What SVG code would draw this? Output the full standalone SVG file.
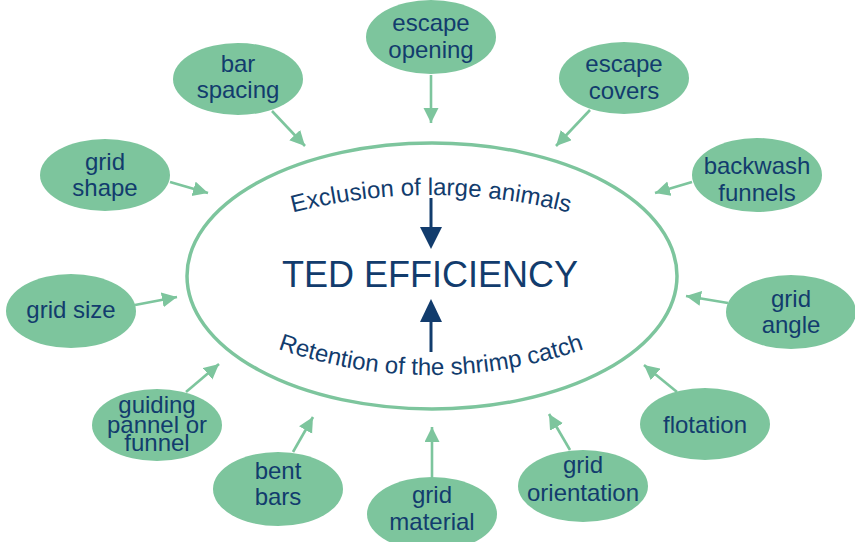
<svg xmlns="http://www.w3.org/2000/svg" width="855" height="542" viewBox="0 0 855 542">
<defs>
<style>
.node ellipse{fill:#7dc59d;}
.node text,.lbl{font-family:"Liberation Sans",Arial,sans-serif;font-size:24px;fill:#123c6d;text-anchor:middle;}
.conn line{stroke:#7dc59d;stroke-width:2.6;fill:none;marker-end:url(#ah);}
.title{font-family:"Liberation Sans",Arial,sans-serif;font-size:36px;fill:#123c6d;text-anchor:middle;}
</style>
<marker id="ah" markerUnits="userSpaceOnUse" markerWidth="16" markerHeight="16" refX="15" refY="7.5" orient="auto">
<path d="M0,0 L15,7.5 L0,15 z" fill="#7dc59d"/>
</marker>
<path id="arcTop" d="M 250 225.5 A 553 553 0 0 1 612 225.5"/>
<path id="arcBot" d="M 231 329.5 A 462 462 0 0 0 631 329.5"/>
</defs>
<rect width="855" height="542" fill="#ffffff"/>

<g id="center">
<ellipse cx="432" cy="276" rx="245" ry="133" fill="#ffffff" stroke="#7dc59d" stroke-width="3.5"/>
<text class="lbl"><textPath href="#arcTop" startOffset="50%">Exclusion of large animals</textPath></text>
<text class="lbl"><textPath href="#arcBot" startOffset="50%">Retention of the shrimp catch</textPath></text>
<text class="title" x="430" y="287">TED EFFICIENCY</text>
<line x1="431" y1="198" x2="431" y2="232" stroke="#123c6d" stroke-width="3"/>
<polygon points="420,227 442,227 431,249" fill="#123c6d"/>
<line x1="431" y1="352" x2="431" y2="318" stroke="#123c6d" stroke-width="3"/>
<polygon points="420,322 442,322 431,299" fill="#123c6d"/>
</g>

<g class="conn" id="connectors">
<line x1="431" y1="75" x2="431" y2="123"/>
<line x1="272" y1="111" x2="305" y2="146"/>
<line x1="590" y1="110" x2="556" y2="146"/>
<line x1="170" y1="182" x2="208" y2="193"/>
<line x1="692" y1="182" x2="655" y2="193"/>
<line x1="135" y1="305" x2="177" y2="297"/>
<line x1="728" y1="303" x2="686" y2="296"/>
<line x1="186" y1="392" x2="219" y2="364"/>
<line x1="677" y1="392" x2="644" y2="365"/>
<line x1="293" y1="452" x2="313" y2="417"/>
<line x1="432" y1="477" x2="432" y2="427"/>
<line x1="570" y1="450" x2="549" y2="414"/>
</g>

<g class="node" id="escape-opening"><ellipse cx="431" cy="37" rx="65" ry="37"/><text x="431" y="31">escape</text><text x="431" y="58">opening</text></g>
<g class="node" id="bar-spacing"><ellipse cx="238" cy="79" rx="65" ry="36"/><text x="238" y="72">bar</text><text x="238" y="98">spacing</text></g>
<g class="node" id="escape-covers"><ellipse cx="624" cy="78" rx="65" ry="36"/><text x="624" y="72">escape</text><text x="624" y="99">covers</text></g>
<g class="node" id="grid-shape"><ellipse cx="105" cy="175" rx="65" ry="36"/><text x="105" y="170">grid</text><text x="105" y="196">shape</text></g>
<g class="node" id="backwash-funnels"><ellipse cx="757" cy="175" rx="65" ry="37"/><text x="757" y="174">backwash</text><text x="757" y="201">funnels</text></g>
<g class="node" id="grid-size"><ellipse cx="71" cy="311" rx="65" ry="37"/><text x="71" y="318">grid size</text></g>
<g class="node" id="grid-angle"><ellipse cx="791" cy="312" rx="65" ry="37"/><text x="791" y="307">grid</text><text x="791" y="333">angle</text></g>
<g class="node" id="guiding-pannel"><ellipse cx="157" cy="425" rx="65" ry="36"/><text x="157" y="413">guiding</text><text x="157" y="433">pannel or</text><text x="157" y="451">funnel</text></g>
<g class="node" id="flotation"><ellipse cx="705" cy="424" rx="65" ry="36"/><text x="705" y="433">flotation</text></g>
<g class="node" id="bent-bars"><ellipse cx="278" cy="489" rx="65" ry="37"/><text x="278" y="479">bent</text><text x="278" y="505">bars</text></g>
<g class="node" id="grid-material"><ellipse cx="432" cy="514" rx="65" ry="37"/><text x="432" y="503">grid</text><text x="432" y="530">material</text></g>
<g class="node" id="grid-orientation"><ellipse cx="583" cy="486" rx="65" ry="36"/><text x="583" y="473">grid</text><text x="583" y="501">orientation</text></g>
</svg>
